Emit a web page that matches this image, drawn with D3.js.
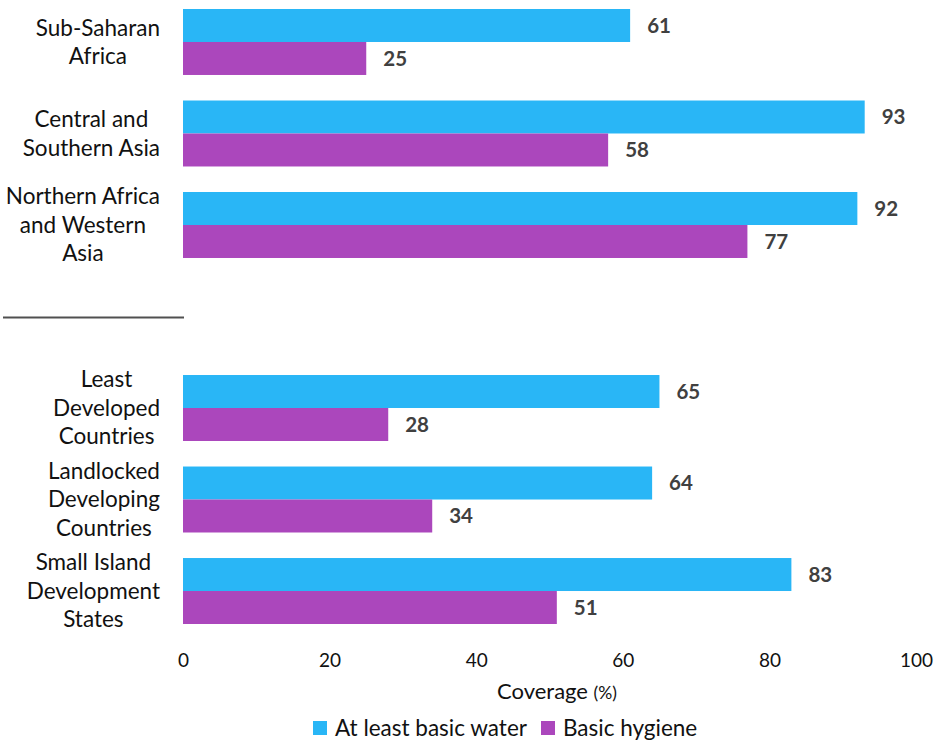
<!DOCTYPE html>
<html>
<head>
<meta charset="utf-8">
<script src="https://cdn.jsdelivr.net/npm/d3@7"></script>
<style>
  body { margin: 0; background: #fff; }
  svg { display: block; font-family: Lato, "Open Sans", sans-serif; }
</style>
</head>
<body>
<svg id="chart" width="945" height="742"></svg>
<script>
// Regions and groups (an empty slot separates the two blocks)
const categories = [
  "Sub-Saharan Africa",
  "Central and Southern Asia",
  "Northern Africa and Western Asia",
  "",
  "Least Developed Countries",
  "Landlocked Developing Countries",
  "Small Island Development States"
];
const labelLines = [
  ["Sub-Saharan", "Africa"],
  ["Central and", "Southern Asia"],
  ["Northern Africa", "and Western", "Asia"],
  [],
  ["Least", "Developed", "Countries"],
  ["Landlocked", "Developing", "Countries"],
  ["Small Island", "Development", "States"]
];
const seriesNames = ["At least basic water", "Basic hygiene"];
const waterValues   = [61, 93, 92, null, 65, 64, 83];
const hygieneValues = [25, 58, 77, null, 28, 34, 51];
const xTicks = [0, 20, 40, 60, 80, 100];
const colors = ["#29B6F6", "#AB47BC"];

const svg = d3.select("#chart");

const x = d3.scaleLinear().domain([0, 100]).range([183, 916]);
const y = d3.scaleBand().domain(categories.map((c, i) => i))
  .range([9, 624]).paddingInner(0.279).paddingOuter(0);
const ySub = d3.scaleBand().domain([0, 1]).range([0, y.bandwidth()]);

const rows = categories.map((c, i) => ({ i, vals: [waterValues[i], hygieneValues[i]] }))
  .filter(d => d.vals[0] != null);

const g = svg.selectAll("g.row").data(rows).join("g")
  .attr("class", "row")
  .attr("transform", d => `translate(0,${y(d.i)})`);

g.selectAll("rect").data(d => d.vals.map((v, k) => ({ v, k }))).join("rect")
  .attr("x", x(0))
  .attr("y", d => ySub(d.k))
  .attr("width", d => x(d.v) - x(0))
  .attr("height", ySub.bandwidth())
  .attr("fill", d => colors[d.k]);

g.selectAll("text.val").data(d => d.vals.map((v, k) => ({ v, k }))).join("text")
  .attr("class", "val")
  .attr("x", d => x(d.v) + 17)
  .attr("y", d => ySub(d.k) + ySub.bandwidth() / 2)
  .attr("dy", "0.36em")
  .attr("font-size", 20.5)
  .attr("font-weight", "bold")
  .attr("fill", "#404040")
  .text(d => d.v);

// Category labels: each block's widest line ends at labelRight,
// and every line is centred within that block
const labelRight = 160;
categories.forEach((c, i) => {
  const lines = labelLines[i];
  if (!lines.length) return;
  const cy = y(i) + y.bandwidth() / 2;
  const lh = 28.5;
  const t = svg.append("text")
    .attr("text-anchor", "middle")
    .attr("font-size", 22.5)
    .attr("fill", "#111");
  const spans = lines.map((ln, j) => t.append("tspan")
    .attr("y", cy + (j - (lines.length - 1) / 2) * lh)
    .attr("dy", "0.35em")
    .text(ln));
  const maxW = d3.max(spans, s => s.node().getComputedTextLength());
  spans.forEach(s => s.attr("x", labelRight - maxW / 2));
});

// Divider between regional and country-group blocks
const gapIdx = categories.indexOf("");
svg.append("line")
  .attr("x1", 3).attr("x2", 184)
  .attr("y1", y(gapIdx) + y.bandwidth() / 2 + 1)
  .attr("y2", y(gapIdx) + y.bandwidth() / 2 + 1)
  .attr("stroke", "#505050").attr("stroke-width", 2);

// X axis: labels only
const axis = d3.axisBottom(x).tickValues(xTicks).tickSize(0).tickPadding(0);
const ax = svg.append("g").attr("transform", "translate(0,653)").call(axis);
ax.select(".domain").remove();
ax.selectAll("text")
  .attr("font-size", 19)
  .attr("font-family", "Lato, sans-serif")
  .attr("fill", "#111")
  .attr("dy", "0.71em");

const title = svg.append("text")
  .attr("x", 557).attr("y", 699)
  .attr("text-anchor", "middle")
  .attr("fill", "#111")
  .attr("font-size", 22);
title.append("tspan").text("Coverage ");
title.append("tspan").attr("font-size", 17.5).text("(%)");

// Legend
const legendX = [313, 541];
seriesNames.forEach((n, k) => {
  svg.append("rect")
    .attr("x", legendX[k]).attr("y", 721)
    .attr("width", 14).attr("height", 14)
    .attr("fill", colors[k]);
  svg.append("text")
    .attr("x", legendX[k] + 22).attr("y", 728)
    .attr("dy", "0.35em")
    .attr("font-size", 22.5)
    .attr("fill", "#111")
    .text(n);
});
</script>
</body>
</html>
